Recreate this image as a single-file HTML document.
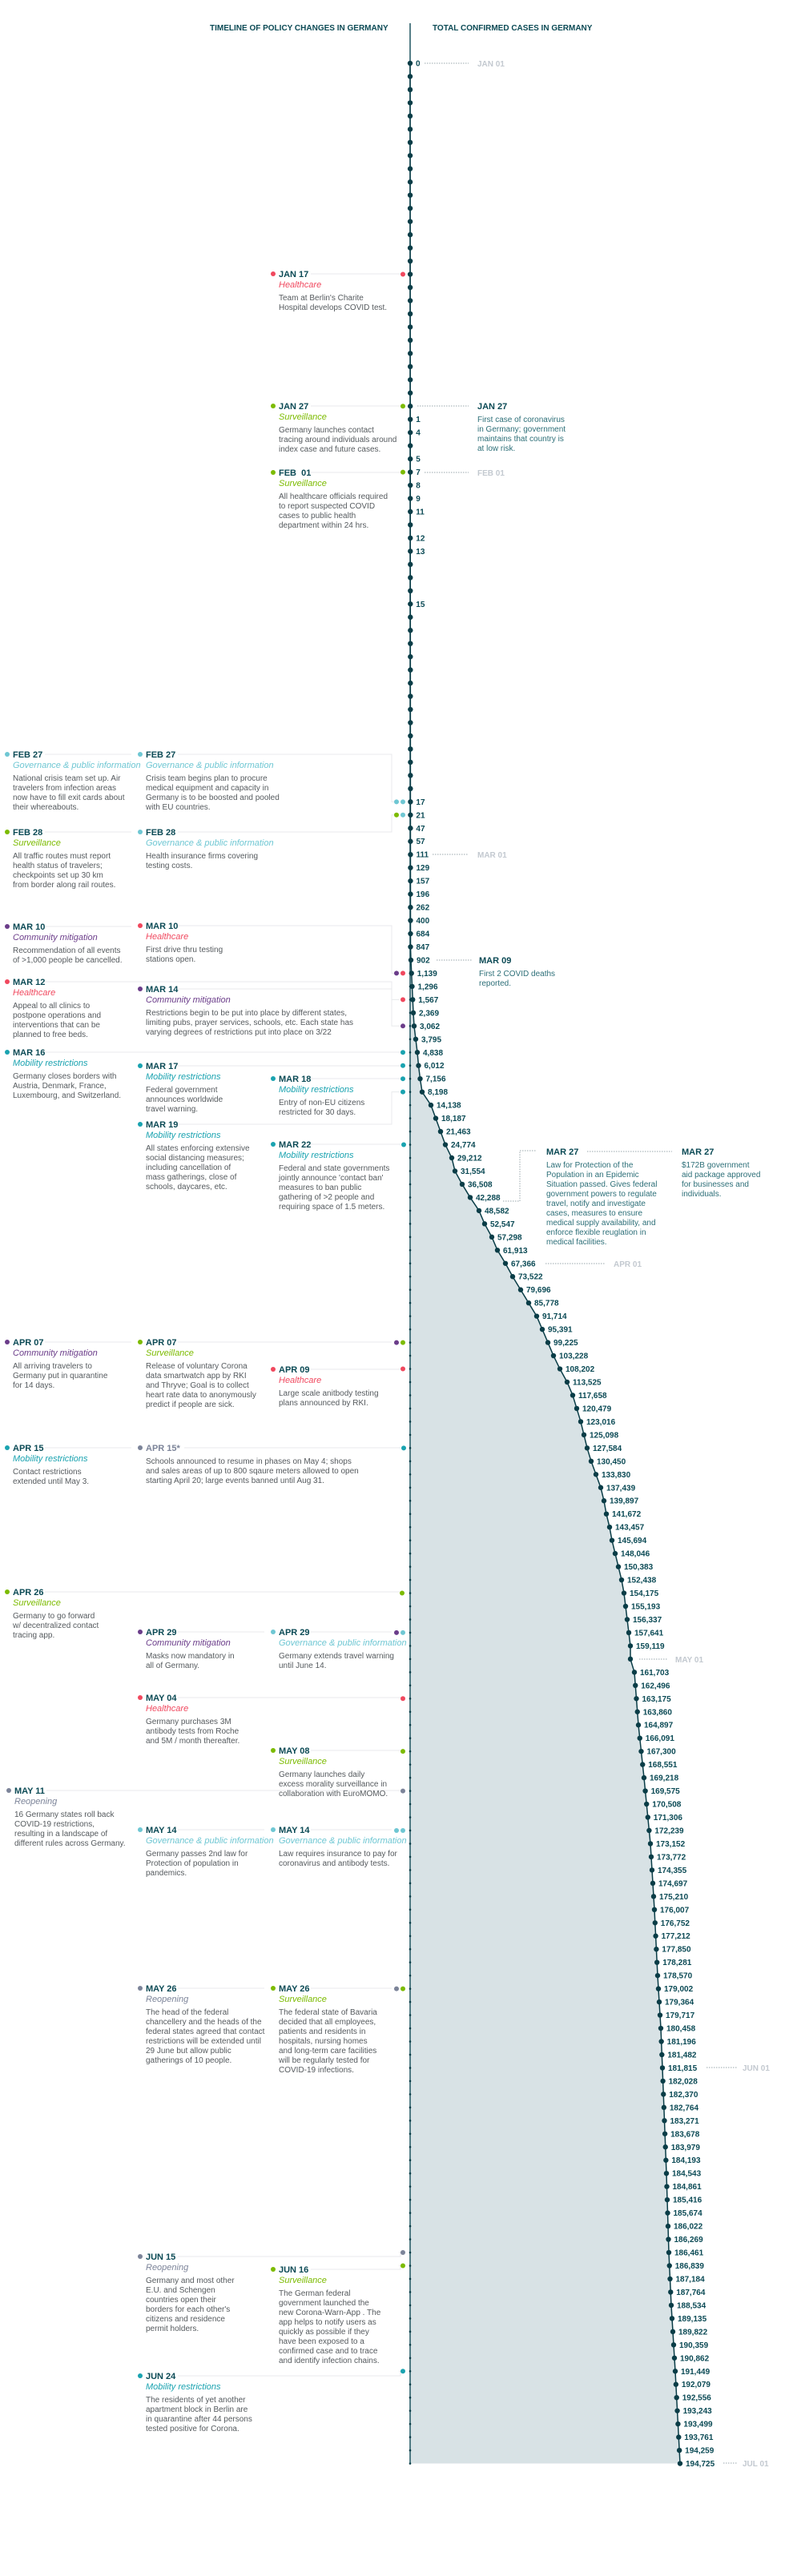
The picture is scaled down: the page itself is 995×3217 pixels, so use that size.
<!DOCTYPE html>
<html><head><meta charset="utf-8">
<style>
html,body{margin:0;padding:0;background:#fff;}
svg{display:block;font-family:"Liberation Sans",Arial,sans-serif;}
.h{font-size:10px;font-weight:bold;fill:#0b4a55;}
.dt{font-size:11px;font-weight:bold;fill:#0b4a55;}
.ct{font-size:11px;font-style:italic;}
.ds{font-size:10px;fill:#555a5e;}
.an{font-size:10px;fill:#2d6f78;}
.mo{font-size:10px;font-weight:bold;fill:#c3c9d0;}
.c{font-size:10px;font-weight:bold;fill:#0b4a55;}
.hc{fill:#f0485e}.sv{fill:#7cbb00}.gv{fill:#6fc7d3}.cm{fill:#6b3d8a}.mb{fill:#1aa3b0}.ro{fill:#7c8499}
.cn{stroke:#e8eaec;stroke-width:1;fill:none}
.dot{stroke:#9aa7ad;stroke-width:1;stroke-dasharray:1.5 1.5;fill:none}
</style></head><body>
<svg width="995" height="3217" viewBox="0 0 995 3217" xmlns="http://www.w3.org/2000/svg">
<text class="h" x="262" y="38">TIMELINE OF POLICY CHANGES IN GERMANY</text>
<text class="h" x="540" y="38">TOTAL CONFIRMED CASES IN GERMANY</text>
<polygon id="fill" fill="#d8e2e5" points=""/>
<line x1="512" y1="29" x2="512" y2="3076" stroke="#1e5560" stroke-width="1.5"/>
<g id="conn"></g>
<polyline id="curve" fill="none" stroke="#0a3d47" stroke-width="1.5" points=""/>
<g id="ticks"></g>
<g id="dots"></g>
<g id="marks"></g>

<!-- month labels -->
<line class="dot" x1="530" y1="79" x2="585" y2="79"/><text class="mo" x="596" y="83">JAN 01</text>
<line class="dot" x1="530" y1="590" x2="585" y2="590"/><text class="mo" x="596" y="594">FEB 01</text>
<line class="dot" x1="540" y1="1067" x2="585" y2="1067"/><text class="mo" x="596" y="1071">MAR 01</text>
<line class="dot" x1="681" y1="1578" x2="755" y2="1578"/><text class="mo" x="766" y="1582">APR 01</text>
<line class="dot" x1="798" y1="2072" x2="833" y2="2072"/><text class="mo" x="843" y="2076">MAY 01</text>
<line class="dot" x1="882" y1="2582" x2="920" y2="2582"/><text class="mo" x="927" y="2586">JUN 01</text>
<line class="dot" x1="903" y1="3076" x2="921" y2="3076"/><text class="mo" x="927" y="3080">JUL 01</text>

<!-- right annotations -->
<line class="dot" x1="521" y1="507" x2="585" y2="507"/>
<text class="dt" x="596" y="511">JAN 27</text>
<text class="an" x="596" y="527"><tspan x="596">First case of coronavirus</tspan><tspan x="596" dy="12">in Germany; government</tspan><tspan x="596" dy="12">maintains that country is</tspan><tspan x="596" dy="12">at low risk.</tspan></text>
<line class="dot" x1="545" y1="1199" x2="590" y2="1199"/>
<text class="dt" x="598" y="1203">MAR 09</text>
<text class="an" x="598" y="1219"><tspan x="598">First 2 COVID deaths</tspan><tspan x="598" dy="12">reported.</tspan></text>
<polyline class="dot" points="628,1500 649,1500 649,1437 670,1437"/>
<text class="dt" x="682" y="1442">MAR 27</text>
<text class="an" x="682" y="1458"><tspan x="682">Law for Protection of the</tspan><tspan x="682" dy="12">Population in an Epidemic</tspan><tspan x="682" dy="12">Situation passed. Gives federal</tspan><tspan x="682" dy="12">government powers to regulate</tspan><tspan x="682" dy="12">travel, notify and investigate</tspan><tspan x="682" dy="12">cases, measures to ensure</tspan><tspan x="682" dy="12">medical supply availability, and</tspan><tspan x="682" dy="12">enforce flexible reuglation in</tspan><tspan x="682" dy="12">medical facilities.</tspan></text>
<line class="dot" x1="733" y1="1438" x2="839" y2="1438"/>
<text class="dt" x="851" y="1442">MAR 27</text>
<text class="an" x="851" y="1458"><tspan x="851">$172B government</tspan><tspan x="851" dy="12">aid package approved</tspan><tspan x="851" dy="12">for businesses and</tspan><tspan x="851" dy="12">individuals.</tspan></text>

<!-- case labels (positioned by script in order) -->
<g id="cases">
<text class="c">0</text><text class="c">1</text><text class="c">4</text><text class="c">5</text><text class="c">7</text><text class="c">8</text><text class="c">9</text><text class="c">11</text><text class="c">12</text><text class="c">13</text><text class="c">15</text>
<text class="c">17</text><text class="c">21</text><text class="c">47</text><text class="c">57</text><text class="c">111</text><text class="c">129</text><text class="c">157</text><text class="c">196</text><text class="c">262</text><text class="c">400</text><text class="c">684</text><text class="c">847</text><text class="c">902</text><text class="c">1,139</text><text class="c">1,296</text><text class="c">1,567</text><text class="c">2,369</text><text class="c">3,062</text><text class="c">3,795</text><text class="c">4,838</text><text class="c">6,012</text><text class="c">7,156</text><text class="c">8,198</text><text class="c">14,138</text><text class="c">18,187</text><text class="c">21,463</text><text class="c">24,774</text><text class="c">29,212</text><text class="c">31,554</text><text class="c">36,508</text><text class="c">42,288</text><text class="c">48,582</text><text class="c">52,547</text><text class="c">57,298</text><text class="c">61,913</text><text class="c">67,366</text><text class="c">73,522</text><text class="c">79,696</text><text class="c">85,778</text><text class="c">91,714</text><text class="c">95,391</text><text class="c">99,225</text><text class="c">103,228</text><text class="c">108,202</text><text class="c">113,525</text><text class="c">117,658</text><text class="c">120,479</text><text class="c">123,016</text><text class="c">125,098</text><text class="c">127,584</text><text class="c">130,450</text><text class="c">133,830</text><text class="c">137,439</text><text class="c">139,897</text><text class="c">141,672</text><text class="c">143,457</text><text class="c">145,694</text><text class="c">148,046</text><text class="c">150,383</text><text class="c">152,438</text><text class="c">154,175</text><text class="c">155,193</text><text class="c">156,337</text><text class="c">157,641</text><text class="c">159,119</text>
<text class="c">161,703</text><text class="c">162,496</text><text class="c">163,175</text><text class="c">163,860</text><text class="c">164,897</text><text class="c">166,091</text><text class="c">167,300</text><text class="c">168,551</text><text class="c">169,218</text><text class="c">169,575</text><text class="c">170,508</text><text class="c">171,306</text><text class="c">172,239</text><text class="c">173,152</text><text class="c">173,772</text><text class="c">174,355</text><text class="c">174,697</text><text class="c">175,210</text><text class="c">176,007</text><text class="c">176,752</text><text class="c">177,212</text><text class="c">177,850</text><text class="c">178,281</text><text class="c">178,570</text><text class="c">179,002</text><text class="c">179,364</text><text class="c">179,717</text><text class="c">180,458</text><text class="c">181,196</text><text class="c">181,482</text><text class="c">181,815</text><text class="c">182,028</text><text class="c">182,370</text><text class="c">182,764</text><text class="c">183,271</text><text class="c">183,678</text><text class="c">183,979</text><text class="c">184,193</text><text class="c">184,543</text><text class="c">184,861</text><text class="c">185,416</text><text class="c">185,674</text><text class="c">186,022</text><text class="c">186,269</text><text class="c">186,461</text><text class="c">186,839</text><text class="c">187,184</text><text class="c">187,764</text><text class="c">188,534</text><text class="c">189,135</text><text class="c">189,822</text><text class="c">190,359</text><text class="c">190,862</text><text class="c">191,449</text><text class="c">192,079</text><text class="c">192,556</text><text class="c">193,243</text><text class="c">193,499</text><text class="c">193,761</text><text class="c">194,259</text><text class="c">194,725</text>
</g>

<!-- events -->
<g transform="translate(348,342)"><circle cx="-7" cy="0" r="3" class="hc"/><text class="dt" y="4">JAN 17</text><text class="ct hc" y="17">Healthcare</text><text class="ds" y="33"><tspan x="0">Team at Berlin's Charite</tspan><tspan x="0" dy="12">Hospital develops COVID test.</tspan></text></g>
<g transform="translate(348,507)"><circle cx="-7" cy="0" r="3" class="sv"/><text class="dt" y="4">JAN 27</text><text class="ct sv" y="17">Surveillance</text><text class="ds" y="33"><tspan x="0">Germany launches contact</tspan><tspan x="0" dy="12">tracing around individuals around</tspan><tspan x="0" dy="12">index case and future cases.</tspan></text></g>
<g transform="translate(348,590)"><circle cx="-7" cy="0" r="3" class="sv"/><text class="dt" y="4">FEB&#160;&#160;01</text><text class="ct sv" y="17">Surveillance</text><text class="ds" y="33"><tspan x="0">All healthcare officials required</tspan><tspan x="0" dy="12">to report suspected COVID</tspan><tspan x="0" dy="12">cases to public health</tspan><tspan x="0" dy="12">department within 24 hrs.</tspan></text></g>

<g transform="translate(16,942)"><circle cx="-7" cy="0" r="3" class="gv"/><text class="dt" y="4">FEB 27</text><text class="ct gv" y="17">Governance &amp; public information</text><text class="ds" y="33"><tspan x="0">National crisis team set up. Air</tspan><tspan x="0" dy="12">travelers from infection areas</tspan><tspan x="0" dy="12">now have to fill exit cards about</tspan><tspan x="0" dy="12">their whereabouts.</tspan></text></g>
<g transform="translate(182,942)"><circle cx="-7" cy="0" r="3" class="gv"/><text class="dt" y="4">FEB 27</text><text class="ct gv" y="17">Governance &amp; public information</text><text class="ds" y="33"><tspan x="0">Crisis team begins plan to procure</tspan><tspan x="0" dy="12">medical equipment and capacity in</tspan><tspan x="0" dy="12">Germany is to be boosted and pooled</tspan><tspan x="0" dy="12">with EU countries.</tspan></text></g>
<g transform="translate(16,1039)"><circle cx="-7" cy="0" r="3" class="sv"/><text class="dt" y="4">FEB 28</text><text class="ct sv" y="17">Surveillance</text><text class="ds" y="33"><tspan x="0">All traffic routes must report</tspan><tspan x="0" dy="12">health status of travelers;</tspan><tspan x="0" dy="12">checkpoints set up 30 km</tspan><tspan x="0" dy="12">from border along rail routes.</tspan></text></g>
<g transform="translate(182,1039)"><circle cx="-7" cy="0" r="3" class="gv"/><text class="dt" y="4">FEB 28</text><text class="ct gv" y="17">Governance &amp; public information</text><text class="ds" y="33"><tspan x="0">Health insurance firms covering</tspan><tspan x="0" dy="12">testing costs.</tspan></text></g>
<g transform="translate(16,1157)"><circle cx="-7" cy="0" r="3" class="cm"/><text class="dt" y="4">MAR 10</text><text class="ct cm" y="17">Community mitigation</text><text class="ds" y="33"><tspan x="0">Recommendation of all events</tspan><tspan x="0" dy="12">of &gt;1,000 people be cancelled.</tspan></text></g>
<g transform="translate(182,1156)"><circle cx="-7" cy="0" r="3" class="hc"/><text class="dt" y="4">MAR 10</text><text class="ct hc" y="17">Healthcare</text><text class="ds" y="33"><tspan x="0">First drive thru testing</tspan><tspan x="0" dy="12">stations open.</tspan></text></g>
<g transform="translate(16,1226)"><circle cx="-7" cy="0" r="3" class="hc"/><text class="dt" y="4">MAR 12</text><text class="ct hc" y="17">Healthcare</text><text class="ds" y="33"><tspan x="0">Appeal to all clinics to</tspan><tspan x="0" dy="12">postpone operations and</tspan><tspan x="0" dy="12">interventions that can be</tspan><tspan x="0" dy="12">planned to free beds.</tspan></text></g>
<g transform="translate(182,1235)"><circle cx="-7" cy="0" r="3" class="cm"/><text class="dt" y="4">MAR 14</text><text class="ct cm" y="17">Community mitigation</text><text class="ds" y="33"><tspan x="0">Restrictions begin to be put into place by different states,</tspan><tspan x="0" dy="12">limiting pubs, prayer services, schools, etc. Each state has</tspan><tspan x="0" dy="12">varying degrees of restrictions put into place on 3/22</tspan></text></g>
<g transform="translate(16,1314)"><circle cx="-7" cy="0" r="3" class="mb"/><text class="dt" y="4">MAR 16</text><text class="ct mb" y="17">Mobility restrictions</text><text class="ds" y="33"><tspan x="0">Germany closes borders with</tspan><tspan x="0" dy="12">Austria, Denmark, France,</tspan><tspan x="0" dy="12">Luxembourg, and Switzerland.</tspan></text></g>
<g transform="translate(182,1331)"><circle cx="-7" cy="0" r="3" class="mb"/><text class="dt" y="4">MAR 17</text><text class="ct mb" y="17">Mobility restrictions</text><text class="ds" y="33"><tspan x="0">Federal government</tspan><tspan x="0" dy="12">announces worldwide</tspan><tspan x="0" dy="12">travel warning.</tspan></text></g>
<g transform="translate(348,1347)"><circle cx="-7" cy="0" r="3" class="mb"/><text class="dt" y="4">MAR 18</text><text class="ct mb" y="17">Mobility restrictions</text><text class="ds" y="33"><tspan x="0">Entry of non-EU citizens</tspan><tspan x="0" dy="12">restricted for 30 days.</tspan></text></g>
<g transform="translate(182,1404)"><circle cx="-7" cy="0" r="3" class="mb"/><text class="dt" y="4">MAR 19</text><text class="ct mb" y="17">Mobility restrictions</text><text class="ds" y="33"><tspan x="0">All states enforcing extensive</tspan><tspan x="0" dy="12">social distancing measures;</tspan><tspan x="0" dy="12">including cancellation of</tspan><tspan x="0" dy="12">mass gatherings, close of</tspan><tspan x="0" dy="12">schools, daycares, etc.</tspan></text></g>
<g transform="translate(348,1429)"><circle cx="-7" cy="0" r="3" class="mb"/><text class="dt" y="4">MAR 22</text><text class="ct mb" y="17">Mobility restrictions</text><text class="ds" y="33"><tspan x="0">Federal and state governments</tspan><tspan x="0" dy="12">jointly announce 'contact ban'</tspan><tspan x="0" dy="12">measures to ban public</tspan><tspan x="0" dy="12">gathering of &gt;2 people and</tspan><tspan x="0" dy="12">requiring space of 1.5 meters.</tspan></text></g>

<g transform="translate(16,1676)"><circle cx="-7" cy="0" r="3" class="cm"/><text class="dt" y="4">APR 07</text><text class="ct cm" y="17">Community mitigation</text><text class="ds" y="33"><tspan x="0">All arriving travelers to</tspan><tspan x="0" dy="12">Germany put in quarantine</tspan><tspan x="0" dy="12">for 14 days.</tspan></text></g>
<g transform="translate(182,1676)"><circle cx="-7" cy="0" r="3" class="sv"/><text class="dt" y="4">APR 07</text><text class="ct sv" y="17">Surveillance</text><text class="ds" y="33"><tspan x="0">Release of voluntary Corona</tspan><tspan x="0" dy="12">data smartwatch app by RKI</tspan><tspan x="0" dy="12">and Thryve; Goal is to collect</tspan><tspan x="0" dy="12">heart rate data to anonymously</tspan><tspan x="0" dy="12">predict if people are sick.</tspan></text></g>
<g transform="translate(348,1710)"><circle cx="-7" cy="0" r="3" class="hc"/><text class="dt" y="4">APR 09</text><text class="ct hc" y="17">Healthcare</text><text class="ds" y="33"><tspan x="0">Large scale anitbody testing</tspan><tspan x="0" dy="12">plans announced by RKI.</tspan></text></g>
<g transform="translate(16,1808)"><circle cx="-7" cy="0" r="3" class="mb"/><text class="dt" y="4">APR 15</text><text class="ct mb" y="17">Mobility restrictions</text><text class="ds" y="33"><tspan x="0">Contact restrictions</tspan><tspan x="0" dy="12">extended until May 3.</tspan></text></g>
<g transform="translate(182,1808)"><circle cx="-7" cy="0" r="3" class="ro"/><text class="dt" y="4" style="fill:#7c8499">APR 15*</text><text class="ds" y="20"><tspan x="0">Schools announced to resume in phases on May 4; shops</tspan><tspan x="0" dy="12">and sales areas of up to 800 sqaure meters allowed to open</tspan><tspan x="0" dy="12">starting April 20; large events banned until Aug 31.</tspan></text></g>
<g transform="translate(16,1988)"><circle cx="-7" cy="0" r="3" class="sv"/><text class="dt" y="4">APR 26</text><text class="ct sv" y="17">Surveillance</text><text class="ds" y="33"><tspan x="0">Germany to go forward</tspan><tspan x="0" dy="12">w/ decentralized contact</tspan><tspan x="0" dy="12">tracing app.</tspan></text></g>
<g transform="translate(182,2038)"><circle cx="-7" cy="0" r="3" class="cm"/><text class="dt" y="4">APR 29</text><text class="ct cm" y="17">Community mitigation</text><text class="ds" y="33"><tspan x="0">Masks now mandatory in</tspan><tspan x="0" dy="12">all of Germany.</tspan></text></g>
<g transform="translate(348,2038)"><circle cx="-7" cy="0" r="3" class="gv"/><text class="dt" y="4">APR 29</text><text class="ct gv" y="17">Governance &amp; public information</text><text class="ds" y="33"><tspan x="0">Germany extends travel warning</tspan><tspan x="0" dy="12">until June 14.</tspan></text></g>
<g transform="translate(182,2120)"><circle cx="-7" cy="0" r="3" class="hc"/><text class="dt" y="4">MAY 04</text><text class="ct hc" y="17">Healthcare</text><text class="ds" y="33"><tspan x="0">Germany purchases 3M</tspan><tspan x="0" dy="12">antibody tests from Roche</tspan><tspan x="0" dy="12">and 5M / month thereafter.</tspan></text></g>
<g transform="translate(348,2186)"><circle cx="-7" cy="0" r="3" class="sv"/><text class="dt" y="4">MAY 08</text><text class="ct sv" y="17">Surveillance</text><text class="ds" y="33"><tspan x="0">Germany launches daily</tspan><tspan x="0" dy="12">excess morality surveillance in</tspan><tspan x="0" dy="12">collaboration with EuroMOMO.</tspan></text></g>
<g transform="translate(18,2236)"><circle cx="-7" cy="0" r="3" class="ro"/><text class="dt" y="4">MAY 11</text><text class="ct ro" y="17">Reopening</text><text class="ds" y="33"><tspan x="0">16 Germany states roll back</tspan><tspan x="0" dy="12">COVID-19 restrictions,</tspan><tspan x="0" dy="12">resulting in a landscape of</tspan><tspan x="0" dy="12">different rules across Germany.</tspan></text></g>
<g transform="translate(182,2285)"><circle cx="-7" cy="0" r="3" class="gv"/><text class="dt" y="4">MAY 14</text><text class="ct gv" y="17">Governance &amp; public information</text><text class="ds" y="33"><tspan x="0">Germany passes 2nd law for</tspan><tspan x="0" dy="12">Protection of population in</tspan><tspan x="0" dy="12">pandemics.</tspan></text></g>
<g transform="translate(348,2285)"><circle cx="-7" cy="0" r="3" class="gv"/><text class="dt" y="4">MAY 14</text><text class="ct gv" y="17">Governance &amp; public information</text><text class="ds" y="33"><tspan x="0">Law requires insurance to pay for</tspan><tspan x="0" dy="12">coronavirus and antibody tests.</tspan></text></g>
<g transform="translate(182,2483)"><circle cx="-7" cy="0" r="3" class="ro"/><text class="dt" y="4">MAY 26</text><text class="ct ro" y="17">Reopening</text><text class="ds" y="33"><tspan x="0">The head of the federal</tspan><tspan x="0" dy="12">chancellery and the heads of the</tspan><tspan x="0" dy="12">federal states agreed that contact</tspan><tspan x="0" dy="12">restrictions will be extended until</tspan><tspan x="0" dy="12">29 June but allow public</tspan><tspan x="0" dy="12">gatherings of 10 people.</tspan></text></g>
<g transform="translate(348,2483)"><circle cx="-7" cy="0" r="3" class="sv"/><text class="dt" y="4">MAY 26</text><text class="ct sv" y="17">Surveillance</text><text class="ds" y="33"><tspan x="0">The federal state of Bavaria</tspan><tspan x="0" dy="12">decided that all employees,</tspan><tspan x="0" dy="12">patients and residents in</tspan><tspan x="0" dy="12">hospitals, nursing homes</tspan><tspan x="0" dy="12">and long-term care facilities</tspan><tspan x="0" dy="12">will be regularly tested for</tspan><tspan x="0" dy="12">COVID-19 infections.</tspan></text></g>
<g transform="translate(182,2818)"><circle cx="-7" cy="0" r="3" class="ro"/><text class="dt" y="4">JUN 15</text><text class="ct ro" y="17">Reopening</text><text class="ds" y="33"><tspan x="0">Germany and most other</tspan><tspan x="0" dy="12">E.U. and Schengen</tspan><tspan x="0" dy="12">countries open their</tspan><tspan x="0" dy="12">borders for each other's</tspan><tspan x="0" dy="12">citizens and residence</tspan><tspan x="0" dy="12">permit holders.</tspan></text></g>
<g transform="translate(348,2834)"><circle cx="-7" cy="0" r="3" class="sv"/><text class="dt" y="4">JUN 16</text><text class="ct sv" y="17">Surveillance</text><text class="ds" y="33"><tspan x="0">The German federal</tspan><tspan x="0" dy="12">government launched the</tspan><tspan x="0" dy="12">new Corona-Warn-App . The</tspan><tspan x="0" dy="12">app helps to notify users as</tspan><tspan x="0" dy="12">quickly as possible if they</tspan><tspan x="0" dy="12">have been exposed to a</tspan><tspan x="0" dy="12">confirmed case and to trace</tspan><tspan x="0" dy="12">and identify infection chains.</tspan></text></g>
<g transform="translate(182,2967)"><circle cx="-7" cy="0" r="3" class="mb"/><text class="dt" y="4">JUN 24</text><text class="ct mb" y="17">Mobility restrictions</text><text class="ds" y="33"><tspan x="0">The residents of yet another</tspan><tspan x="0" dy="12">apartment block in Berlin are</tspan><tspan x="0" dy="12">in quarantine after 44 persons</tspan><tspan x="0" dy="12">tested positive for Corona.</tspan></text></g>
</svg>
<script>
(function(){
var NS="http://www.w3.org/2000/svg";
function Y(d){return 79+16.47*d;}
var kp=[[0,512],[67,512.5],[68,513],[72,516],[73,517],[74,519],[75,521],[76,522.5],[77,524.5],[78,527],[79,538],[80,544],[81,550],[82,556],[83,564],[84,568],[85,577],[86,587],[87,598],[88,605],[89,614],[90,621],[91,631],[92,640],[93,650],[94,660],[95,670],[96,677],[97,684],[98,691],[99,699],[100,708],[101,715],[102,720],[103,725],[104,729],[105,733],[106,738],[107,744],[108,750],[109,754],[110,757],[111,761],[112,764],[113,768],[114,772],[115,776],[116,779],[117,781],[118,783],[119,785],[120,787],[121,787],[122,792],[126,797],[130,804],[135,812],[140,817],[145,821],[149,825],[152,827],[160,832],[166,835],[170,838],[175,843],[182,849]];
function X(d){for(var i=0;i<kp.length-1;i++){if(d>=kp[i][0]&&d<=kp[i+1][0]){var t=(d-kp[i][0])/(kp[i+1][0]-kp[i][0]);return kp[i][1]+t*(kp[i+1][1]-kp[i][1]);}}return 849;}
function el(n,a,p){var e=document.createElementNS(NS,n);for(var k in a)e.setAttribute(k,a[k]);p.appendChild(e);return e;}
var pts=[],fp=["512,"+Y(67)];
for(var d=0;d<=182;d++){pts.push(X(d)+","+Y(d));if(d>=67)fp.push(X(d)+","+Y(d));}
fp.push("512,"+Y(182));
document.getElementById("curve").setAttribute("points",pts.join(" "));
document.getElementById("fill").setAttribute("points",fp.join(" "));
var dots=document.getElementById("dots"),ticks=document.getElementById("ticks");
for(var d=0;d<=182;d++){el("circle",{cx:X(d),cy:Y(d),r:3.2,fill:"#0a3d47"},dots);if(X(d)>514)el("circle",{cx:512,cy:Y(d),r:1.3,fill:"#0a3d47"},ticks);}
var days=[0,27,28,30,31,32,33,34,36,37,41];
for(var d=56;d<=120;d++)days.push(d);
for(var d=122;d<=182;d++)days.push(d);
var cs=document.getElementById("cases").children;
for(var i=0;i<cs.length;i++){var dd=days[i];cs[i].setAttribute("x",X(dd)+7);cs[i].setAttribute("y",Y(dd)+3.5);}
var col={hc:"#f0485e",sv:"#7cbb00",gv:"#6fc7d3",cm:"#6b3d8a",mb:"#1aa3b0",ro:"#7c8499"};
var mk=[[16,503,"hc"],[26,503,"sv"],[31,503,"sv"],[56,495,"gv"],[56,503,"gv"],[57,495,"sv"],[57,503,"gv"],[69,495,"cm"],[69,503,"hc"],[71,503,"hc"],[73,503,"cm"],[75,503,"mb"],[76,503,"mb"],[77,503,"mb"],[78,503,"mb"],[82,504,"mb"],[97,495,"cm"],[97,503,"sv"],[99,503,"hc"],[105,504,"mb"],[116,502,"sv"],[119,495,"cm"],[119,503,"gv"],[124,503,"hc"],[128,503,"sv"],[131,503,"ro"],[134,495,"gv"],[134,503,"gv"],[146,495,"ro"],[146,503,"sv"],[166,503,"ro"],[167,503,"sv"],[175,503,"mb"]];
var mg=document.getElementById("marks");
mk.forEach(function(m){el("circle",{cx:m[1],cy:Y(m[0]),r:3,fill:col[m[2]]},mg);});
// connectors: [startX, headerY, endX, markerDay]
var cn=[[388,342,500,16],[388,507,500,26],[388,590,500,31],[56,942,164,-1],[222,942,489,56],[56,1039,164,-1],[222,1039,489,57],[56,1157,164,-1],[222,1156,489,69],[56,1226,489,71],[222,1235,489,73],[56,1314,500,75],[222,1331,500,76],[388,1347,500,77],[222,1404,489,78],[388,1429,500,82],[56,1676,164,-1],[222,1676,489,97],[388,1710,500,99],[56,1808,164,-1],[230,1808,500,105],[56,1988,499,116],[222,2038,330,-1],[388,2038,489,119],[222,2120,500,124],[388,2186,500,128],[58,2236,500,131],[222,2285,330,-1],[388,2285,489,134],[222,2483,330,-1],[388,2483,489,146],[222,2818,500,166],[388,2834,500,167],[222,2967,500,175]];
var cg=document.getElementById("conn");
cn.forEach(function(c){var my=c[3]<0?c[1]:Y(c[3]);var p;
 if(c[3]<0||Math.abs(my-c[1])<2){p=c[0]+","+c[1]+" "+c[2]+","+c[1];}
 else{p=c[0]+","+c[1]+" "+c[2]+","+c[1]+" "+c[2]+","+my+" 498,"+my;}
 el("polyline",{points:p,"class":"cn"},cg);});
})();
</script>
</body></html>
